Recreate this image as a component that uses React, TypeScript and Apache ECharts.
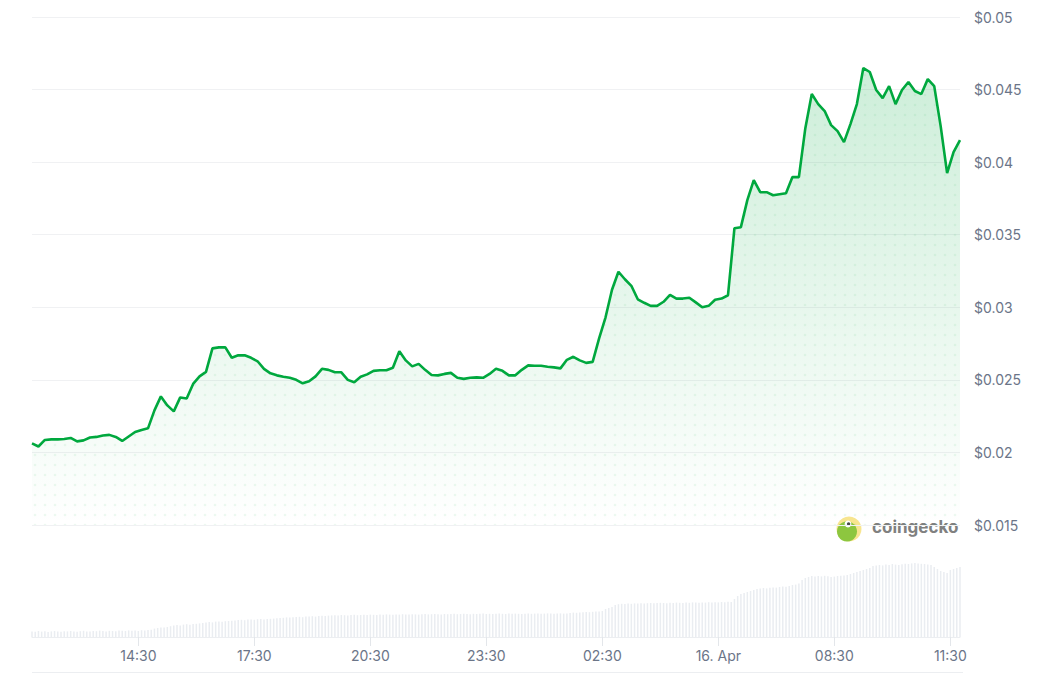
import React, { useEffect, useRef } from "react";
import * as echarts from "echarts";

// Time in minutes since 15 Apr 00:00 (display time)
const priceStartMinute = 705; // 11:45
const priceStepMinutes = 10;
const priceValues = [
  0.02062, 0.02041, 0.02086, 0.0209, 0.0209, 0.02093, 0.021, 0.02076, 0.02083, 0.02103,
  0.02107, 0.02117, 0.02121, 0.02107, 0.02079, 0.0211, 0.02141, 0.02155, 0.02166, 0.0229,
  0.02386, 0.02324, 0.02283, 0.02379, 0.02372, 0.02472, 0.02524, 0.02555, 0.02717, 0.02724,
  0.02724, 0.02652, 0.02669, 0.02669, 0.02652, 0.02628, 0.02576, 0.02545, 0.02531, 0.02521,
  0.02514, 0.025, 0.02476, 0.0249, 0.02524, 0.02576, 0.02569, 0.02552, 0.02552, 0.025,
  0.02483, 0.02521, 0.02538, 0.02562, 0.02566, 0.02566, 0.02583, 0.02697, 0.02634, 0.02593,
  0.0261, 0.02569, 0.02534, 0.02531, 0.02541, 0.02548, 0.02514, 0.02507, 0.02514, 0.02517,
  0.02514, 0.02541, 0.02576, 0.02562, 0.02531, 0.02531, 0.02569, 0.026, 0.02597, 0.02597,
  0.0259, 0.02586, 0.02579, 0.02638, 0.02659, 0.02634, 0.02617, 0.02624, 0.02786, 0.02931,
  0.03121, 0.03245, 0.03193, 0.03148, 0.03055, 0.03031, 0.0301, 0.0301, 0.03038, 0.03086,
  0.0306, 0.0306, 0.03066, 0.03034, 0.03, 0.0301, 0.03052, 0.0306, 0.03083, 0.03545,
  0.03552, 0.03738, 0.03876, 0.03793, 0.03793, 0.03772, 0.03779, 0.03786, 0.03897, 0.03897,
  0.04234, 0.04469, 0.044, 0.04352, 0.04255, 0.04214, 0.04138, 0.04262, 0.044, 0.04648,
  0.04621, 0.04497, 0.04441, 0.04524, 0.044, 0.04497, 0.04552, 0.0449, 0.04469, 0.04572,
  0.04524, 0.04248, 0.03924, 0.04069, 0.04152,
];

const volumeStartMinute = 705;
const volumeStepMinutes = 5;
const volumeValues = [
  280, 260, 300, 270, 290, 250, 280, 300, 270, 260,
  290, 280, 300, 270, 260, 290, 310, 280, 270, 300,
  290, 320, 300, 280, 310, 300, 290, 320, 310, 300,
  330, 310, 320, 300, 340, 330, 350, 360,
  420, 450, 480, 470, 500,
  540, 570, 600, 580, 620, 640, 610, 650, 660, 680,
  700, 720, 750, 730, 770, 780, 760, 790, 800, 810,
  830, 850, 860, 840, 870, 880, 860, 890, 900, 880, 900, 910, 920,
  940, 950, 960, 980, 970, 990, 1000, 1010, 990, 1020, 1030, 1040, 1020, 1050, 1060, 1050, 1070,
  1080, 1090, 1070, 1100, 1090, 1080, 1100, 1110, 1090, 1100,
  1110, 1100, 1120, 1110, 1100, 1120, 1110, 1130, 1120, 1110,
  1130, 1120, 1140, 1130, 1120, 1140, 1130, 1120, 1140, 1150,
  1130, 1140, 1150, 1140, 1130, 1150, 1140, 1150, 1160, 1140,
  1150, 1160, 1150, 1140, 1160, 1150, 1160, 1170, 1150, 1160,
  1150, 1160, 1170, 1160, 1150, 1170, 1160, 1170, 1160, 1150,
  1160, 1170, 1160, 1170, 1180, 1160, 1170, 1180, 1170, 1160,
  1170, 1180, 1170, 1180,
  1200, 1220, 1210, 1230, 1240, 1250, 1240, 1260, 1270, 1280, 1300,
  1400, 1450, 1500,
  1600, 1640, 1660, 1650, 1670, 1660, 1680, 1670, 1690, 1680,
  1690, 1700, 1690, 1700, 1710, 1700, 1690, 1710, 1700, 1720,
  1710, 1700, 1720, 1710, 1730, 1720, 1710, 1730, 1720, 1740,
  1730, 1740, 1730, 1750, 1740, 1760, 1750,
  1900, 2050, 2150, 2200, 2250, 2300, 2350,
  2400, 2420, 2450, 2430, 2460, 2480, 2470, 2500, 2520, 2510, 2550, 2600, 2620, 2680,
  2850, 2950, 3000, 3050, 3020, 3050, 3030, 3060, 3040, 3000, 3020, 3050, 3060, 3080, 3100, 3150, 3200,
  3250, 3300, 3350, 3400, 3450,
  3550, 3580, 3600, 3580, 3620, 3600, 3650, 3620, 3600, 3640, 3660, 3650, 3680, 3700, 3680, 3660, 3650, 3620, 3600,
  3500, 3400, 3300, 3250,
  3200, 3350, 3400, 3450, 3500,
];

const tickMinutes = [870, 1050, 1230, 1410, 1590, 1770, 1950, 2130];
const tickLabels = ["14:30", "17:30", "20:30", "23:30", "02:30", "16. Apr", "08:30", "11:30"];

const xMin = 705;
const xMax = 2145;
const priceMin = 0.015;
const priceMax = 0.05;
const priceInterval = 0.005;
const volumeMax = 4600;

const GREEN = "#00a83e";
const LABEL = "#6b7588";

export default function App() {
  const ref = useRef<HTMLDivElement>(null);

  useEffect(() => {
    if (!ref.current) return;
    const chart = echarts.init(ref.current, null, { renderer: "svg" });

    const priceData = priceValues.map((v, i) => [priceStartMinute + i * priceStepMinutes, v]);
    const volumeData = volumeValues.map((v, i) => [volumeStartMinute + i * volumeStepMinutes, v]);

    const canvas = document.createElement("canvas");
    canvas.width = 10;
    canvas.height = 10;
    const ctx = canvas.getContext("2d");
    if (ctx) {
      ctx.fillStyle = "rgba(0,168,62,0.10)";
      ctx.beginPath();
      ctx.arc(5, 5, 1.3, 0, Math.PI * 2);
      ctx.fill();
    }

    const fmtTick = (v: number) => {
      const idx = tickMinutes.findIndex((t) => Math.abs(t - v) < 0.5);
      return idx >= 0 ? tickLabels[idx] : "";
    };

    chart.setOption({
      animation: false,
      backgroundColor: "#ffffff",
      textStyle: { fontFamily: "Inter" },
      grid: [
        { left: 32, right: 91, top: 17, height: 508 },
        { left: 32, right: 91, top: 545, height: 92 },
      ],
      xAxis: [
        {
          gridIndex: 0,
          type: "value",
          min: xMin,
          max: xMax,
          show: false,
          splitLine: { show: false },
        },
        {
          gridIndex: 1,
          type: "value",
          min: xMin,
          max: xMax,
          axisLine: { show: true, lineStyle: { color: "#eceef1", width: 1 } },
          axisTick: {
            show: true,
            customValues: tickMinutes,
            length: 9,
            lineStyle: { color: "#e3e6ea" },
          },
          axisLabel: {
            customValues: tickMinutes,
            formatter: fmtTick,
            color: LABEL,
            fontSize: 14,
            margin: 11,
            fontFamily: "Inter",
          },
          splitLine: { show: false },
        },
      ],
      yAxis: [
        {
          gridIndex: 0,
          type: "value",
          position: "right",
          min: priceMin,
          max: priceMax,
          interval: priceInterval,
          axisLine: { show: false },
          axisTick: { show: false },
          axisLabel: {
            formatter: (v: number) => "$" + parseFloat(v.toFixed(4)),
            color: LABEL,
            fontSize: 14,
            margin: 14,
            fontFamily: "Inter",
          },
          splitLine: { show: true, lineStyle: { color: "#f0f1f3", width: 1 } },
        },
        {
          gridIndex: 1,
          type: "value",
          min: 0,
          max: volumeMax,
          show: false,
          splitLine: { show: false },
        },
      ],
      series: [
        {
          type: "bar",
          xAxisIndex: 1,
          yAxisIndex: 1,
          data: volumeData,
          barWidth: 1.5,
          itemStyle: { color: "#eaedf1" },
          silent: true,
        },
        {
          type: "line",
          xAxisIndex: 0,
          yAxisIndex: 0,
          data: priceData,
          showSymbol: false,
          symbol: "none",
          lineStyle: { width: 0 },
          areaStyle: {
            origin: "start",
            color: { image: canvas, repeat: "repeat" },
          },
          silent: true,
          z: 2,
        },
        {
          type: "line",
          xAxisIndex: 0,
          yAxisIndex: 0,
          data: priceData,
          showSymbol: false,
          symbol: "none",
          lineStyle: { width: 2.6, color: GREEN },
          areaStyle: {
            origin: "start",
            color: new echarts.graphic.LinearGradient(0, 0, 0, 1, [
              { offset: 0, color: "rgba(0,168,62,0.28)" },
              { offset: 1, color: "rgba(0,168,62,0.0)" },
            ]),
          },
          z: 3,
        },
      ],
      graphic: [
        {
          type: "line",
          shape: { x1: 32, y1: 672.5, x2: 963, y2: 672.5 },
          style: { stroke: "#eceef1", lineWidth: 1 },
          silent: true,
        },
        {
          type: "group",
          silent: true,
          children: [
            { type: "circle", shape: { cx: 849, cy: 529, r: 12.5 }, style: { fill: "#f8e58f" } },
            { type: "circle", shape: { cx: 847, cy: 531.5, r: 10 }, style: { fill: "#8dc63f" } },
            { type: "circle", shape: { cx: 848, cy: 524, r: 3.4 }, style: { fill: "#ffffff" } },
            { type: "circle", shape: { cx: 848.6, cy: 524, r: 1.7 }, style: { fill: "#4a4a4a" } },
            {
              type: "text",
              x: 872,
              y: 527,
              style: {
                text: "coingecko",
                fill: "#808080",
                font: "bold 17px Inter",
                verticalAlign: "middle",
                align: "left",
              },
            },
          ],
        },
      ],
    });

    return () => chart.dispose();
  }, []);

  return (
    <div
      ref={ref}
      style={{ position: "absolute", left: 0, top: 0, width: 1051, height: 675, background: "#fff" }}
    />
  );
}
